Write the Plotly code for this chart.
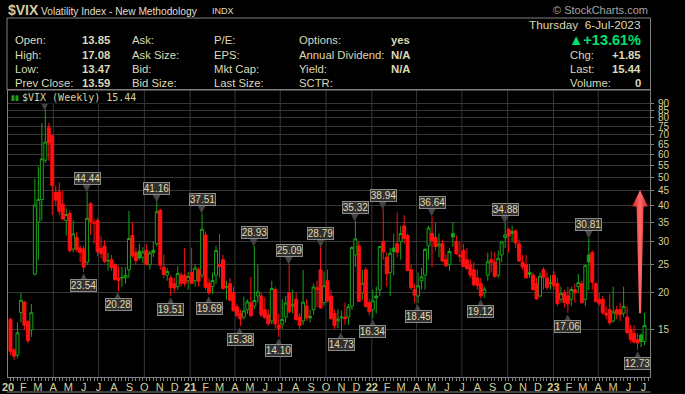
import plotly.graph_objects as go
import pandas as pd
import numpy as np

# ---------------- data (weekly OHLC, weeks starting Monday) ----------------
week_start = "2020-01-06"

open_2020 = [16.2, 12.7, 12.2, 17.1, 18.6, 15.9, 14.9, 23.2, 35.0, 41.9, 57.2, 74.0, 69.5,
             44.3, 44.5, 40.4, 35.5, 37.5, 28.3, 31.0, 28.5, 28.3, 25.5, 40.5, 35.0, 35.5,
             28.5, 29.0, 25.7, 26.0, 25.0, 22.5, 22.6, 22.5, 24.0, 31.5, 27.5, 27.8, 26.5,
             28.0, 25.0, 28.0, 29.5, 38.5, 24.5, 23.0, 22.5, 21.5, 21.0, 23.0, 23.0, 22.0]
high_2020 = [16.4, 12.9, 15.8, 20.0, 18.7, 16.1, 18.3, 49.48, 54.39, 76.83, 85.47, 76.9, 70.0,
             46.8, 48.0, 45.0, 39.0, 38.5, 35.5, 32.3, 29.0, 29.0, 44.44, 41.0, 36.0, 36.1,
             31.3, 30.3, 27.5, 27.0, 25.3, 24.7, 24.5, 24.5, 38.28, 35.0, 28.4, 29.5, 28.7,
             29.5, 27.9, 30.0, 41.16, 38.9, 27.1, 24.3, 23.0, 22.5, 24.7, 23.5, 28.5, 23.6]
low_2020 = [12.2, 11.75, 11.9, 15.8, 14.9, 13.4, 14.1, 22.9, 26.0, 35.5, 56.0, 57.0, 37.0,
            40.0, 37.0, 35.5, 31.5, 27.5, 27.6, 27.6, 25.5, 23.54, 24.9, 31.6, 29.5, 26.8,
            26.3, 25.3, 23.9, 23.8, 22.0, 20.28, 21.0, 21.5, 22.5, 26.4, 25.0, 26.0, 25.3,
            24.9, 24.0, 26.5, 28.9, 24.0, 22.4, 22.0, 19.51, 20.0, 20.5, 21.0, 21.0, 20.5]
close_2020 = [12.56, 12.10, 14.56, 18.84, 15.47, 13.68, 17.08, 40.11, 41.94, 57.83, 66.04, 65.54, 46.80,
              41.67, 38.15, 35.93, 37.19, 27.98, 31.89, 28.16, 27.51, 24.52, 36.09, 35.12, 34.73, 27.68,
              27.29, 25.68, 25.84, 24.46, 22.21, 22.05, 22.54, 22.96, 30.75, 26.87, 25.83, 26.38, 27.63,
              25.00, 27.41, 27.55, 38.02, 24.86, 23.10, 23.70, 20.84, 20.79, 23.31, 21.57, 21.53, 22.75]

open_2021 = [23.5, 22.0, 24.0, 23.0, 31.6, 21.5, 21.0, 23.0, 25.0, 26.0, 21.0, 21.5, 20.0,
             17.9, 17.0, 16.5, 17.5, 18.5, 18.0, 19.5, 19.5, 17.5, 16.8, 16.0, 20.5, 15.5,
             15.6, 16.5, 20.0, 18.0, 19.0, 16.5, 16.0, 18.0, 16.6, 17.5, 20.5, 24.0, 18.5,
             22.0, 19.5, 17.0, 16.0, 16.5, 16.5, 16.5, 18.0, 27.0, 29.0, 20.0, 24.0, 18.5]
high_2021 = [28.6, 25.1, 24.5, 37.51, 32.5, 22.4, 23.5, 29.0, 31.9, 27.0, 22.0, 22.5, 21.0,
             18.3, 17.5, 19.4, 19.0, 22.7, 28.93, 25.0, 20.0, 19.3, 17.5, 22.0, 21.0, 16.9,
             19.0, 19.5, 25.09, 20.5, 20.0, 17.0, 24.0, 19.0, 17.5, 21.5, 22.0, 28.79, 23.7,
             24.0, 20.5, 17.5, 17.5, 17.4, 18.5, 18.3, 28.99, 35.32, 30.0, 24.0, 24.5, 19.0]
low_2021 = [21.5, 21.0, 20.99, 22.5, 20.5, 19.69, 19.8, 21.5, 22.5, 20.5, 18.9, 18.7, 17.3,
            16.4, 15.38, 16.2, 16.9, 16.5, 17.6, 18.5, 16.5, 16.3, 15.4, 15.6, 15.1, 14.10,
            15.0, 15.8, 17.0, 17.0, 16.1, 15.0, 15.5, 16.0, 15.8, 16.8, 17.9, 17.6, 18.0,
            18.5, 16.2, 15.0, 15.1, 14.73, 15.5, 15.5, 17.5, 24.5, 18.6, 18.9, 17.8, 16.7]
close_2021 = [21.56, 24.34, 21.91, 33.09, 20.87, 19.97, 22.05, 27.95, 24.66, 20.69, 20.95, 18.86, 17.33,
              16.69, 16.25, 17.33, 18.61, 16.69, 18.81, 20.15, 16.76, 16.42, 15.65, 20.70, 15.62, 15.07,
              16.18, 18.45, 17.20, 18.24, 16.15, 15.45, 18.56, 16.39, 16.41, 20.95, 20.81, 17.75, 21.15,
              18.77, 16.30, 15.43, 16.26, 16.48, 16.29, 17.91, 28.62, 30.67, 18.69, 21.57, 17.96, 17.22]

open_2022 = [17.5, 19.5, 20.5, 30.0, 26.5, 23.5, 28.5, 29.5, 30.0, 34.0, 31.5, 24.0, 20.5,
             19.5, 22.0, 23.0, 29.0, 32.0, 31.0, 29.0, 29.5, 26.0, 25.0, 32.0, 30.0, 27.0,
             28.0, 26.0, 25.0, 24.0, 22.5, 21.5, 20.0, 23.0, 26.0, 25.5, 23.0, 27.0, 31.0,
             33.0, 32.5, 32.7, 29.5, 25.5, 25.0, 23.5, 23.0, 21.5, 19.5, 24.0, 22.5, 21.5]
high_2022 = [20.5, 21.0, 29.0, 38.94, 27.5, 28.5, 32.0, 37.79, 34.0, 37.0, 32.0, 25.0, 21.5,
             23.5, 24.4, 28.5, 34.0, 36.64, 34.8, 32.0, 30.5, 27.0, 28.5, 35.05, 31.5, 30.0,
             29.5, 28.5, 26.0, 25.5, 24.0, 22.5, 21.0, 27.5, 27.8, 27.6, 28.0, 30.0, 34.88,
             33.5, 34.0, 33.0, 30.5, 27.0, 27.0, 25.0, 23.5, 22.5, 23.5, 24.5, 23.5, 23.0]
low_2022 = [16.34, 17.0, 19.5, 26.0, 21.0, 19.5, 23.0, 26.5, 26.0, 29.5, 23.7, 20.5, 18.5,
            18.45, 20.5, 20.5, 26.0, 24.5, 28.0, 26.5, 25.5, 24.5, 23.8, 28.8, 27.0, 25.5,
            24.5, 24.0, 22.5, 21.0, 20.5, 19.12, 19.2, 22.0, 23.5, 22.5, 22.5, 25.5, 28.5,
            27.5, 30.0, 28.5, 25.5, 24.0, 22.4, 22.5, 20.4, 18.9, 19.3, 20.5, 20.5, 20.5]
close_2022 = [18.76, 19.19, 28.85, 27.66, 23.22, 27.36, 27.75, 27.59, 31.98, 30.75, 23.87, 20.81, 19.63,
              21.16, 22.70, 28.21, 33.40, 30.19, 28.87, 29.43, 25.72, 24.79, 27.75, 31.13, 27.23, 26.70,
              24.64, 24.23, 23.03, 21.33, 21.15, 19.53, 20.60, 25.56, 25.47, 22.79, 26.30, 29.92, 31.62,
              31.36, 32.02, 29.69, 25.75, 24.55, 22.52, 23.12, 20.50, 19.06, 22.83, 22.62, 20.87, 21.67]

open_2023 = [23.0, 21.5, 19.0, 20.0, 19.5, 19.0, 20.5, 21.0, 21.5, 19.0, 27.0, 27.5, 21.5,
             19.0, 19.0, 17.0, 17.5, 16.0, 17.5, 17.5, 17.0, 16.5, 15.0, 14.5, 13.8, 14.3, 13.59]
high_2023 = [23.8, 22.5, 21.0, 20.5, 21.0, 21.0, 21.5, 23.2, 22.0, 25.0, 30.81, 28.0, 21.7,
             20.0, 19.5, 17.9, 19.8, 21.0, 18.0, 18.5, 21.0, 18.0, 15.5, 15.5, 14.5, 14.5, 17.08]
low_2023 = [20.5, 18.0, 18.5, 17.8, 17.06, 18.0, 18.5, 20.0, 18.4, 18.0, 20.5, 20.5, 18.5,
            18.0, 16.8, 16.2, 15.5, 15.8, 16.2, 16.0, 16.5, 14.4, 13.5, 13.4, 12.73, 13.0, 13.2]
close_2023 = [21.13, 18.35, 19.85, 18.51, 18.33, 20.53, 20.02, 21.67, 18.49, 24.80, 25.51, 21.74, 18.70,
              18.40, 17.07, 16.77, 15.78, 17.19, 16.93, 16.81, 17.95, 14.60, 13.83, 13.54, 13.44, 13.59, 15.44]

peak_weeks = ["2020-06-08", "2020-10-26", "2021-01-25", "2021-05-10", "2021-07-19",
              "2021-09-20", "2021-11-29", "2022-01-24", "2022-05-02", "2022-09-26", "2023-03-13"]
hidden_peak_week = "2020-03-16"
trough_weeks = ["2020-06-01", "2020-08-10", "2020-11-23", "2021-02-08", "2021-04-12",
                "2021-06-28", "2021-11-01", "2022-01-03", "2022-04-04", "2022-08-08",
                "2023-01-30", "2023-06-19"]

y_ticks = [15, 20, 25, 30, 35, 40, 45, 50, 55, 60, 65, 70, 75, 80, 85, 90]
month_letters = ["", "F", "M", "A", "M", "J", "J", "A", "S", "O", "N", "D"]

# ---------------- assemble ----------------
opens = open_2020 + open_2021 + open_2022 + open_2023
highs = high_2020 + high_2021 + high_2022 + high_2023
lows = low_2020 + low_2021 + low_2022 + low_2023
closes = close_2020 + close_2021 + close_2022 + close_2023
dates = pd.date_range(week_start, periods=len(closes), freq="7D")
date_idx = {d.strftime("%Y-%m-%d"): i for i, d in enumerate(dates)}

prev = [opens[0]] + closes[:-1]
is_green = [c >= p for c, p in zip(closes, prev)]

GREEN = "#18a318"
RED = "#ff1010"
BG = "#000000"
GRID = "#363636"
AXIS = "#808080"
TAN = "#d6cf9c"
TXT = "#dcd8b8"


def subset(flag):
    idx = [i for i, g in enumerate(is_green) if g == flag]
    return ([dates[i] for i in idx], [opens[i] for i in idx], [highs[i] for i in idx],
            [lows[i] for i in idx], [closes[i] for i in idx])


fig = go.Figure()
for flag, col in [(True, GREEN), (False, RED)]:
    x, o, h, l, c = subset(flag)
    fig.add_trace(go.Candlestick(
        x=x, open=o, high=h, low=l, close=c,
        increasing=dict(line=dict(color=col, width=1), fillcolor=BG),
        decreasing=dict(line=dict(color=col, width=1), fillcolor=col),
        whiskerwidth=0, showlegend=False, hoverinfo="skip"))

# red arrow (annotation drawn by chart author)
arrow_date = pd.Timestamp("2023-06-24")
arrow_tip, arrow_head_base, arrow_tail = 45.2, 39.6, 17.0
head_half, shaft_top_half, shaft_bot_half = 16, 7, 2
ax_pts = [arrow_date, arrow_date + pd.Timedelta(days=head_half),
          arrow_date + pd.Timedelta(days=shaft_top_half), arrow_date + pd.Timedelta(days=shaft_bot_half),
          arrow_date - pd.Timedelta(days=shaft_bot_half), arrow_date - pd.Timedelta(days=shaft_top_half),
          arrow_date - pd.Timedelta(days=head_half), arrow_date]
ay_pts = [arrow_tip, arrow_head_base, arrow_head_base, arrow_tail, arrow_tail,
          arrow_head_base, arrow_head_base, arrow_tip]
fig.add_trace(go.Scatter(
    x=ax_pts, y=ay_pts, mode="lines", fill="toself", line=dict(width=0, color="rgba(0,0,0,0)"),
    fillcolor="#f23a3a",
    fillgradient=dict(type="horizontal",
                      colorscale=[[0, "#d81c1c"], [0.5, "#ff6a6a"], [1, "#d81c1c"]]),
    showlegend=False, hoverinfo="skip"))

# ---------------- layout geometry ----------------
W, H = 685, 394
ML, MR, MT, MB = 8, 35, 90, 17
PW, PH = W - ML - MR, H - MT - MB


def px(x):
    return (x - ML) / PW


def py(y):
    return (H - MB - y) / PH


ann = []
LBL_FONT = dict(family="Liberation Sans, Arial", size=10, color="#e2dab0")
TRI_FONT = dict(family="DejaVu Sans", size=12, color="#454545")

for d in peak_weeks + [hidden_peak_week]:
    i = date_idx[d]
    yv = np.log10(highs[i])
    ann.append(dict(x=dates[i], y=yv, xref="x", yref="y", text="▼", showarrow=False,
                    font=TRI_FONT, yanchor="bottom", yshift=-4))
    if d != hidden_peak_week:
        ann.append(dict(x=dates[i], y=yv, xref="x", yref="y", text=f"{highs[i]:.2f}",
                        showarrow=False, font=LBL_FONT, yanchor="bottom", yshift=7,
                        bgcolor="#303030", bordercolor="#8a8a8a", borderwidth=1, borderpad=0,
                        width=25, height=11))
for d in trough_weeks:
    i = date_idx[d]
    yv = np.log10(lows[i])
    ann.append(dict(x=dates[i], y=yv, xref="x", yref="y", text="▲", showarrow=False,
                    font=TRI_FONT, yanchor="top", yshift=4))
    ann.append(dict(x=dates[i], y=yv, xref="x", yref="y", text=f"{lows[i]:.2f}",
                    showarrow=False, font=LBL_FONT, yanchor="top", yshift=-7,
                    bgcolor="#303030", bordercolor="#8a8a8a", borderwidth=1, borderpad=0,
                    width=25, height=11))

# legend label in plot
ann.append(dict(x=px(9), y=py(97), xref="paper", yref="paper", text="<b>▮▮</b>",
                font=dict(size=7, color=GREEN), showarrow=False, xanchor="left", yanchor="middle"))
ann.append(dict(x=px(21), y=py(97), xref="paper", yref="paper", text="$VIX (Weekly) 15.44",
                font=dict(family="DejaVu Sans Mono", size=10, color=TAN), showarrow=False,
                xanchor="left", yanchor="middle", bgcolor=BG, borderpad=0))

# header
AR = "Liberation Sans, Arial"
ann.append(dict(x=px(6), y=py(10), xref="paper", yref="paper", text="<b>$VIX</b>",
                font=dict(family=AR, size=14, color="#d2cea4"), showarrow=False,
                xanchor="left", yanchor="middle"))
ann.append(dict(x=px(39), y=py(11), xref="paper", yref="paper", text="Volatility Index - New Methodology",
                font=dict(family=AR, size=10.2, color="#e2dec8"), showarrow=False,
                xanchor="left", yanchor="middle"))
ann.append(dict(x=px(210), y=py(11.5), xref="paper", yref="paper", text="INDX",
                font=dict(family=AR, size=9, color="#e2dec8"), showarrow=False,
                xanchor="left", yanchor="middle"))
ann.append(dict(x=px(650), y=py(10.5), xref="paper", yref="paper", text="© StockCharts.com",
                font=dict(family=AR, size=11, color="#a4a4a4"), showarrow=False,
                xanchor="right", yanchor="middle"))

rows_y = [40, 54.5, 69, 83]
col_labels = [
    (13, ["Open:", "High:", "Low:", "Prev Close:"]),
    (130, ["Ask:", "Ask Size:", "Bid:", "Bid Size:"]),
    (212, ["P/E:", "EPS:", "Mkt Cap:", "Last Size:"]),
    (297, ["Options:", "Annual Dividend:", "Yield:", "SCTR:"]),
    (568, ["", "Chg:", "Last:", "Volume:"]),
]
col_values = [
    (112, ["13.85", "17.08", "13.47", "13.59"]),
    (412, ["yes", "N/A", "N/A", ""]),
    (643, ["", "+1.85", "15.44", "0"]),
]
INFO = 11.3
for xx, texts in col_labels:
    for yy, t in zip(rows_y, texts):
        if t:
            ann.append(dict(x=px(xx), y=py(yy), xref="paper", yref="paper", text=t,
                            font=dict(family=AR, size=INFO, color=TXT), showarrow=False,
                            xanchor="left", yanchor="middle"))
for xx, texts in col_values:
    for yy, t in zip(rows_y, texts):
        if t:
            ann.append(dict(x=px(xx), y=py(yy), xref="paper", yref="paper", text=f"<b>{t}</b>",
                            font=dict(family=AR, size=INFO, color=TXT), showarrow=False,
                            xanchor="right", yanchor="middle"))
ann.append(dict(x=px(643), y=py(25), xref="paper", yref="paper", text="Thursday  6-Jul-2023",
                font=dict(family=AR, size=11.8, color=TXT), showarrow=False,
                xanchor="right", yanchor="middle"))
ann.append(dict(x=px(643), y=py(40), xref="paper", yref="paper", text="<b>▲+13.61%</b>",
                font=dict(family=AR, size=14.5, color="#00e070"), showarrow=False,
                xanchor="right", yanchor="middle"))

shapes = []
# quarterly vertical grid lines
for q in pd.date_range("2020-04-01", "2023-04-01", freq="QS"):
    shapes.append(dict(type="line", xref="x", yref="paper", x0=q, x1=q, y0=0, y1=1,
                       line=dict(color=GRID, width=1), layer="below"))
# header box
shapes.append(dict(type="rect", xref="paper", yref="paper", x0=px(7), x1=px(650.5), y0=py(90), y1=py(18),
                   line=dict(color=AXIS, width=1)))
# lower frame line under date labels
shapes.append(dict(type="line", xref="paper", yref="paper", x0=px(7), x1=px(650.5), y0=py(392), y1=py(392),
                   line=dict(color=AXIS, width=1)))

month_starts = pd.date_range("2020-01-01", "2023-07-01", freq="MS")
month_text = [f"<b>{d.strftime('%y')}</b>" if d.month == 1 else month_letters[d.month - 1]
              for d in month_starts]

fig.update_layout(
    width=W, height=H, margin=dict(l=ML, r=MR, t=MT, b=MB, pad=0, autoexpand=False),
    paper_bgcolor=BG, plot_bgcolor=BG,
    boxgap=0.15, boxgroupgap=0,
    annotations=ann, shapes=shapes,
    xaxis=dict(type="date", range=["2020-01-01", "2023-07-14"], rangeslider=dict(visible=False),
               tickvals=month_starts, ticktext=month_text, ticks="", showgrid=False,
               tickfont=dict(family=AR, size=11, color=TAN), tickangle=0, automargin=False,
               showline=True, linecolor=AXIS, linewidth=1, mirror=True, zeroline=False,
               minor=dict(dtick=7 * 86400000, tick0="2020-01-06", ticks="outside", ticklen=3,
                          tickcolor=AXIS, showgrid=False)),
    yaxis=dict(type="log", range=[np.log10(10.26), np.log10(99.8)], side="right",
               tickvals=y_ticks, ticktext=[str(v) for v in y_ticks], automargin=False,
               tickfont=dict(family=AR, size=10, color=TAN), ticklabelstandoff=2,
               showgrid=True, gridcolor=GRID, gridwidth=1, zeroline=False,
               showline=True, linecolor=AXIS, linewidth=1, mirror=True,
               ticks="outside", ticklen=3, tickcolor=AXIS),
    showlegend=False,
)

fig.write_html("out.html", config={"displayModeBar": False},
               post_script="document.body.style.margin='0px';"
                           "document.body.style.background='#000';")
